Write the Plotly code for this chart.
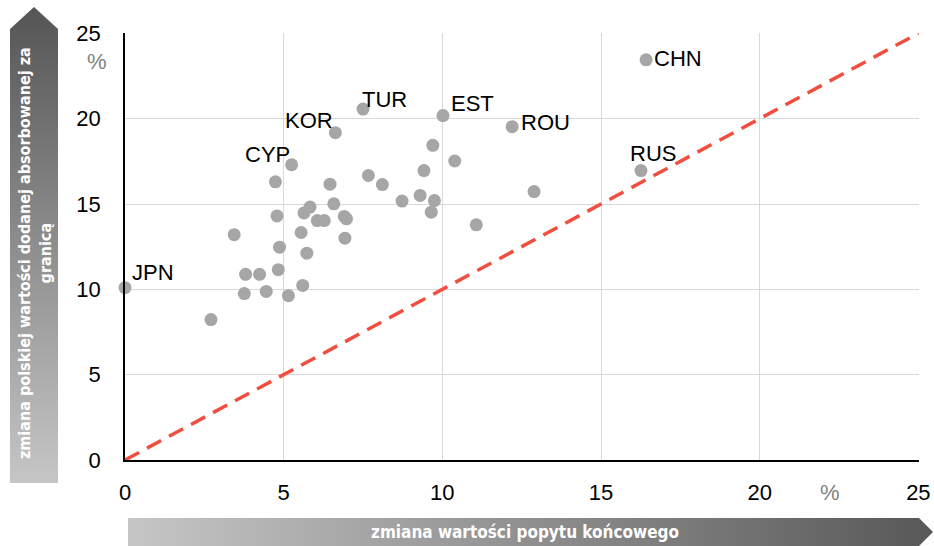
import base64
import plotly.graph_objects as go

# ---- data ----
demand_change = [0.0, 2.71, 3.44, 3.80, 3.76, 4.24, 4.45, 4.74, 4.79, 4.87, 4.83, 5.15,
                 5.25, 5.55, 5.60, 5.64, 5.83, 5.73, 6.06, 6.28, 6.46, 6.63, 6.58, 6.91,
                 6.98, 6.93, 7.50, 7.67, 8.11, 8.73, 9.30, 9.42, 9.70, 9.75, 9.65, 10.02,
                 10.39, 11.07, 12.20, 12.89, 16.42, 16.26]
va_change = [10.1, 8.23, 13.2, 10.88, 9.75, 10.88, 9.88, 16.3, 14.3, 12.47, 11.15, 9.63,
             17.3, 13.33, 10.23, 14.48, 14.82, 12.12, 14.03, 14.03, 16.16, 19.18, 15.01, 14.27,
             14.13, 13.0, 20.56, 16.67, 16.14, 15.17, 15.5, 16.96, 18.44, 15.2, 14.52, 20.18,
             17.52, 13.78, 19.53, 15.73, 23.45, 16.96]
country = ["JPN", "", "", "", "", "", "", "", "", "", "", "",
           "CYP", "", "", "", "", "", "", "", "", "KOR", "", "",
           "", "", "TUR", "", "", "", "", "", "", "", "", "EST",
           "", "", "ROU", "", "CHN", "RUS"]
diag_x = [0, 25]
diag_y = [0, 25]
tick_vals = [0, 5, 10, 15, 20, 25]
x_title = "zmiana wartości popytu końcowego"
y_title = "zmiana polskiej wartości dodanej absorbowanej za<br>granicą"

# label placement style: (xanchor, xshift px, yshift px)
label_style = {"JPN": ("left", 6, 15), "CYP": ("right", -1, 10), "KOR": ("right", -1, 12),
               "TUR": ("left", -2, 10), "EST": ("left", 7, 12), "ROU": ("left", 8, 4),
               "CHN": ("left", 7, 1), "RUS": ("center", 12, 17)}

W, H = 934, 546
L, R, T, B = 125, 15, 33, 86
PW, PH = W - L - R, H - T - B

def px_x(p):
    return (p - L) / PW

def px_y(p):
    return (H - B - p) / PH

def svg_uri(svg):
    return "data:image/svg+xml;base64," + base64.b64encode(svg.encode()).decode()

v_arrow = ('<svg xmlns="http://www.w3.org/2000/svg" width="48" height="476" viewBox="0 0 48 476">'
           '<defs><linearGradient id="g" x1="0" y1="0" x2="0" y2="1">'
           '<stop offset="0" stop-color="#555555"/><stop offset="1" stop-color="#c6c6c6"/>'
           '</linearGradient></defs>'
           '<polygon points="0,22 24,0 48,22 48,476 0,476" fill="url(#g)"/></svg>')
h_arrow = ('<svg xmlns="http://www.w3.org/2000/svg" width="805" height="28" viewBox="0 0 805 28" preserveAspectRatio="none">'
           '<defs><linearGradient id="g" x1="0" y1="0" x2="1" y2="0">'
           '<stop offset="0" stop-color="#c6c6c6"/><stop offset="1" stop-color="#585858"/>'
           '</linearGradient></defs>'
           '<polygon points="0,0 791,0 805,14 791,28 0,28" fill="url(#g)"/></svg>')

fig = go.Figure()
fig.add_trace(go.Scatter(x=diag_x, y=diag_y, mode="lines",
                         line=dict(color="#f04e3e", width=3.5, dash="16px,9px"),
                         hoverinfo="skip", showlegend=False))
fig.add_trace(go.Scatter(x=demand_change, y=va_change, mode="markers",
                         text=country, marker=dict(size=13, color="#a6a6a6"),
                         cliponaxis=False, showlegend=False))

annotations = []
for xv, yv, name in zip(demand_change, va_change, country):
    if not name:
        continue
    anchor, dx, dy = label_style[name]
    annotations.append(dict(text=name, x=xv, y=yv, xref="x", yref="y", showarrow=False,
                            xanchor=anchor, yanchor="middle", xshift=dx, yshift=dy,
                            borderpad=0,
                            font=dict(family="Liberation Sans, Arial", size=22, color="#000000")))

annotations += [
    dict(text=y_title, xref="paper", yref="paper", x=px_x(35), y=px_y(253), textangle=-90,
         showarrow=False,
         font=dict(family="DejaVu Sans Condensed", size=16, color="white", weight="bold"),
         xanchor="center", yanchor="middle"),
    dict(text=x_title, xref="paper", yref="paper", x=px_x(525), y=px_y(532),
         showarrow=False,
         font=dict(family="DejaVu Sans Condensed", size=17, color="white", weight="bold"),
         xanchor="center", yanchor="middle"),
    dict(text="%", xref="paper", yref="paper", x=px_x(97), y=px_y(62), showarrow=False,
         font=dict(family="Liberation Sans Narrow, Liberation Sans", size=22, color="#808080"),
         xanchor="center", yanchor="middle"),
    dict(text="%", xref="paper", yref="paper", x=px_x(830), y=px_y(492), showarrow=False,
         font=dict(family="Liberation Sans Narrow, Liberation Sans", size=22, color="#808080"),
         xanchor="center", yanchor="middle"),
]

fig.update_layout(
    width=W, height=H, autosize=False,
    margin=dict(l=L, r=R, t=T, b=B, autoexpand=False),
    paper_bgcolor="white", plot_bgcolor="white",
    font=dict(family="Liberation Sans, Arial", size=22, color="#000000"),
    xaxis=dict(range=[0, 25.02], tickvals=tick_vals, showgrid=True, gridcolor="#d9d9d9",
               gridwidth=1.3, zeroline=False, showline=True, linecolor="#000000", linewidth=1.5,
               ticks="", ticklabelstandoff=12, tickfont=dict(size=22), automargin=False),
    yaxis=dict(range=[0, 25.02], tickvals=tick_vals, showgrid=True, gridcolor="#d9d9d9",
               gridwidth=1.3, zeroline=False, showline=True, linecolor="#000000", linewidth=1.5,
               ticks="", ticklabelstandoff=18, tickfont=dict(size=22), automargin=False),
    images=[
        dict(source=svg_uri(v_arrow), xref="paper", yref="paper", x=px_x(10), y=px_y(7),
             sizex=48 / PW, sizey=476 / PH, xanchor="left", yanchor="top",
             sizing="stretch", layer="below"),
        dict(source=svg_uri(h_arrow), xref="paper", yref="paper", x=px_x(128), y=px_y(518),
             sizex=805 / PW, sizey=28 / PH, xanchor="left", yanchor="top",
             sizing="stretch", layer="below"),
    ],
    annotations=annotations,
)

fig.write_html("out.html", config={"displayModeBar": False, "responsive": False},
               post_script="document.body.style.margin='0';document.body.style.overflow='hidden';"
                           "Plotly.relayout('{plot_id}', {width: 934, height: 546});")
